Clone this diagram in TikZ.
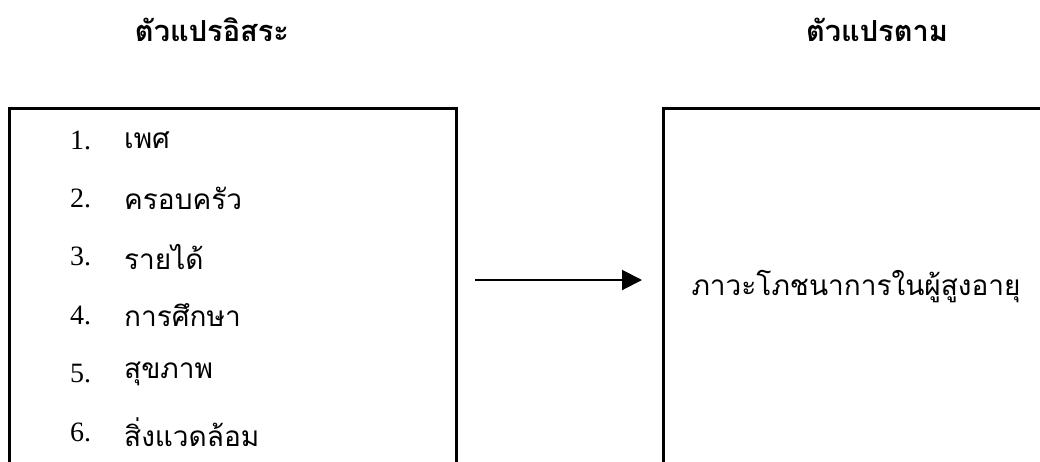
\documentclass[tikz,border=0pt]{standalone}
\usepackage{fontspec}
\setmainfont{Liberation Serif}
\newfontfamily\thaifont[Script=Thai]{Loma}
\usetikzlibrary{arrows.meta, positioning}

\begin{document}
\begin{tikzpicture}[x=1pt, y=-1pt,
    vbox/.style={draw, line width=2.5pt, minimum height=420pt, anchor=north west, inner sep=0pt},
    head/.style={font=\thaifont\bfseries\fontsize{29}{33}\selectfont},
    numtxt/.style={anchor=west, font=\fontsize{28}{32}\selectfont, inner sep=0pt},
    itemtxt/.style={anchor=west, font=\thaifont\fontsize{28}{32}\selectfont, inner sep=0pt},
    varr/.style={-{Triangle[length=20pt, width=20pt]}, line width=2pt}
  ]
  \useasboundingbox (0,0) rectangle (1040,461);

  % headings
  \node[head] (indep) at (212,30) {ตัวแปรอิสระ};
  \node[head] (dep) at (877,30) {ตัวแปรตาม};

  % boxes (cut by the page edge)
  \node[vbox, minimum width=447pt] (lbox) at (8,107) {};
  \node[vbox, minimum width=420pt] (rbox) at (662,107) {};

  % list of factors
  \foreach \i/\t in {1/เพศ, 2/ครอบครัว, 3/รายได้, 4/การศึกษา, 5/สุขภาพ, 6/สิ่งแวดล้อม} {
    \node[numtxt] (num\i) at (70,{140+58.4*(\i-1)}) {\i.};
    \node[itemtxt] (item\i) at (124,{140+58.4*(\i-1)}) {\t};
  }

  \node[itemtxt, anchor=center] (outcome) at (856,287) {ภาวะโภชนาการในผู้สูงอายุ};

  \coordinate (astart) at (475,280);
  \coordinate (aend) at (642,280);
  \draw[varr] (astart) -- (aend);
\end{tikzpicture}
\end{document}
